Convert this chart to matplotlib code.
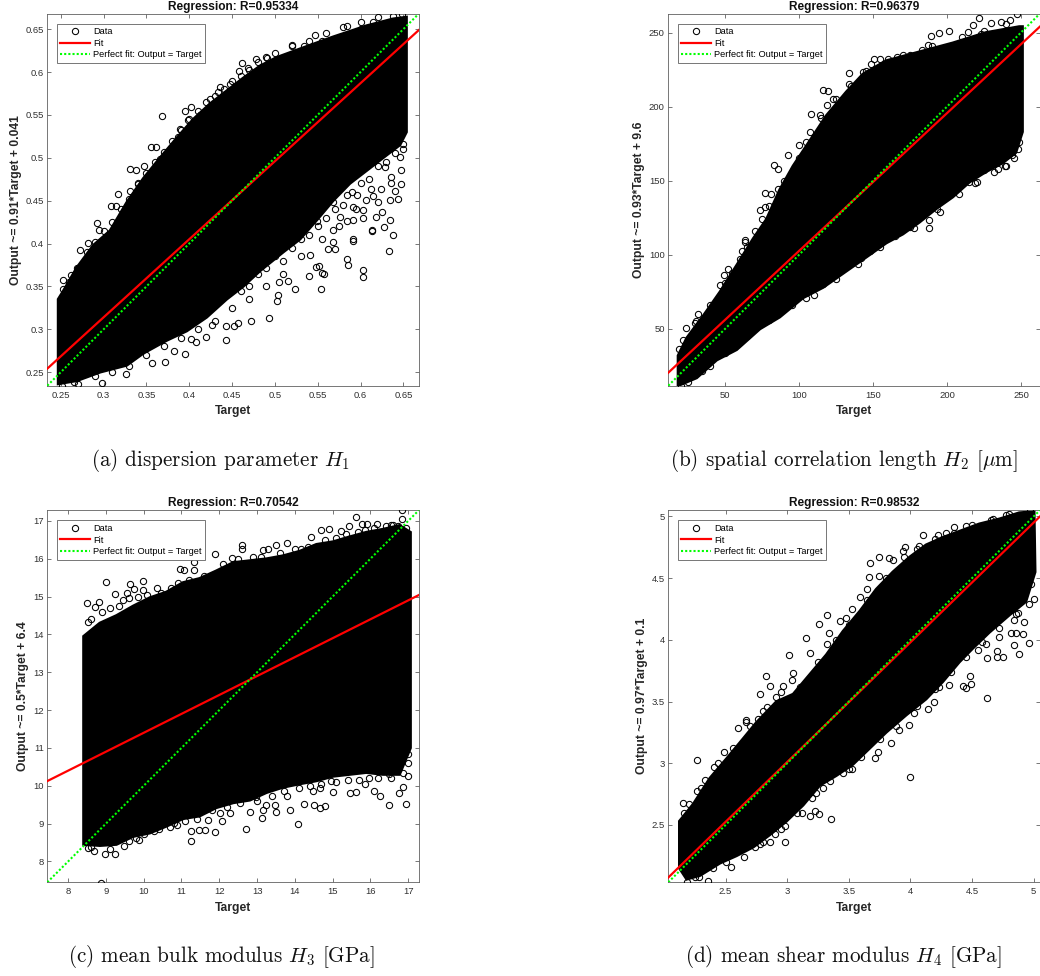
import matplotlib
matplotlib.use('Agg')
import matplotlib.pyplot as plt

plt.rcParams['font.family'] = ['Liberation Sans', 'DejaVu Sans']
plt.rcParams['mathtext.fontset'] = 'cm'
plt.rcParams['axes.formatter.use_mathtext'] = True

# Panel a: solid cloud outline (upper and lower edge), circles that stand clear of it, and the speckled fringe
a_up_x = [.2469, .2531, .2687, .288, .3075, .327, .3464, .3659, .3853, .4047, .4242, .4436, .463, .4825, .5019, .5292, .568, .607, .638, .6536]
a_up_y = [.335, .345, .372, .398, .415, .448, .476, .5, .523, .545, .563, .578, .593, .607, .617, .627, .641, .654, .662, .664]
a_lo_x = [.2469, .2687, .296, .327, .3464, .3736, .397, .4203, .4436, .463, .4825, .5097, .5292, .5486, .568, .5875, .607, .6264, .646, .6536]
a_lo_y = [.2364, .24, .25, .258, .272, .287, .298, .314, .335, .35, .368, .39, .405, .427, .45, .47, .485, .5, .515, .53]
a_out_x = [.3686, .4024, .395, .3989, .4358, .4339, .4242, .4611, .4689, .4579, .4775, .4903, .5019, .5202, .5338, .5466, .584, .6149, .638, .6489,
           .3309, .338, .3472, .355, .3612, .3165, .3083, .3142, .292, .2944, .3406, .3309, .3659, .3892, .3872, .4125, .4475, .5544, .5649, .6,
           .638, .6131, .6275, .6349, .6256, .6178, .6023, .5914, .5836, .6031, .6069, .6205, .6341, .6439, .64, .6477, .6244, .6127, .5953, .5836,
           .5914, .5758, .568, .6477, .6361, .6283, .6458, .6497, .568, .5486, .5914,
           .6331, .5914, .5836, .5855, .6031, .6031, .5397, .5474, .5517, .5544, .5572, .5537, .5237, .5156, .5051, .5031, .5027, .4934, .4716,
           .4572, .4526, .4425, .4425, .4265, .4199, .4079, .4016, .3946, .3818, .3721, .3565, .3258, .2978, .2512, .2706, .5408, .5622, .57, .568, .6135,
           .2726, .2823, .2694, .2531, .2531, .2617]
a_out_y = [.5485, .5594, .5551, .5446, .5823, .5765, .5687, .6103, .6049, .6006, .6153, .6162, .6123, .6313, .6302, .643, .6539, .6582, .6652, .6679,
           .4871, .4859, .4902, .5124, .5131, .4575, .4432, .4432, .4245, .4159, .4692, .4618, .4988, .5337, .524, .5493, .5862, .6356, .6379, .6504,
           .4101, .4152, .4198, .428, .4365, .4307, .4295, .428, .4268, .4393, .4502, .4482, .4502, .4521, .4618, .4696, .4638, .4638, .456, .456,
           .4424, .4307, .4482, .4852, .4774, .489, .5007, .5163, .4152, .4268, .4054,
           .3911, .4028, .3814, .3752, .3694, .3608, .362, .3725, .3733, .3655, .3639, .3464, .3468, .3558, .355, .3394, .3324, .3134, .3099,
           .3075, .3044, .3037, .2877, .3048, .2912, .285, .2881, .271, .2749, .2617, .2601, .2484, .2379, .2341, .2364, .3861, .3939, .3939, .4016, .4141,
           .3919, .4005, .3717, .3577, .3472, .3628]
a_fr_x = [.46, .47, .48, .49, .5, .51, .52, .53, .54, .55, .56, .57, .58, .59, .6, .61, .62, .63, .64, .65,
          .555, .575, .595, .615, .635, .53, .51, .49, .47, .45, .43, .41, .39, .37, .35, .33, .31, .29, .265,
          .26, .27, .28, .29, .3, .31, .32, .33, .34, .35, .36, .37, .38, .39, .4, .41, .42, .43, .44, .45, .46, .47, .48, .49, .5, .52, .54, .56, .58, .6, .62]
a_fr_y = [.345, .35, .365, .372, .385, .38, .395, .405, .41, .42, .43, .44, .445, .46, .47, .475, .49, .495, .505, .51,
          .405, .42, .44, .455, .47, .385, .365, .35, .335, .325, .31, .3, .29, .28, .27, .257, .25, .245, .238,
          .355, .372, .39, .402, .415, .425, .44, .452, .47, .482, .495, .507, .52, .532, .545, .555, .565, .572, .58, .59, .595, .602, .612, .618, .622, .63, .636, .645, .652, .658, .664]

# Panel b
b_up_x = [18.3, 24.2, 35.4, 46.6, 57.9, 69.1, 78, 87, 96, 107.3, 118.5, 132, 143.2, 158.9, 181.4, 203.9, 226.3, 248.8, 251]
b_up_y = [32, 44, 59, 75, 93, 111, 124, 144, 160, 177, 194, 210, 222, 231, 237, 243, 250, 254, 254]
b_lo_x = [18.3, 30.9, 44.4, 57.9, 73.6, 87, 102.8, 116.3, 132, 147.7, 159, 170.2, 181.4, 192.6, 203.9, 215.1, 226.3, 237.6, 246.5, 251]
b_lo_y = [11.7, 17, 29, 36, 50, 58, 71, 78, 89, 100, 108, 114, 122, 131, 139, 149, 156, 162, 169, 183]
b_out_x = [247, 221.8, 229.7, 236.4, 242.5, 217.3, 213.9, 222.9, 201.2, 194.4, 189.3, 187, 183.2, 174.7, 166.1, 160.1, 151, 148.8, 143.2, 133.6,
           133.8, 139.2, 116.3, 119.6, 123, 119, 108.4, 114, 107.7, 100, 92.7, 83, 85.9, 77, 81.4, 85.9, 73.6, 77, 70.2, 63.5,
           63.5, 61.2, 49.6, 52.2, 46.6, 32, 30.5, 23.5, 21.5, 19.2,
           20.3, 34.3, 46, 56, 75.8, 85.9, 104.4, 98.3, 116.3, 129.7, 142, 138.7, 147.7, 157.4, 161.2,
           188.1, 187.7, 193.1, 174.7, 182.5, 214.6, 219.1, 234.2, 239.1, 243.8, 248.1, 248.8, 201.6, 225.2, 210.6]
b_out_y = [262.8, 260.1, 256.1, 257.2, 258.3, 255, 250.5, 249.3, 250.7, 250, 247.5, 241.4, 238.1, 235.1, 233.6, 231.8, 232.4, 229, 223.4, 222.7,
           215.5, 215.1, 211, 210.6, 205, 200.9, 195.3, 194.1, 182.9, 173.9, 167.6, 160.4, 157.7, 141.9, 141.2, 144.6, 130.4, 132.2, 116.4, 109.7,
           108.6, 102.5, 86.7, 90.5, 79.7, 60.1, 55.2, 50.9, 42.6, 36.5,
           11.5, 21.8, 32.7, 39.6, 54.5, 60.8, 70.7, 71.8, 80.4, 91.7, 97.7, 96.6, 102.9, 110.1, 114.6,
           123.6, 118.2, 130.6, 119.1, 125.9, 149.1, 148.4, 158.1, 159.9, 167.1, 171.2, 176.1, 141.7, 157, 152.5]
b_fr_x = [30, 40, 50, 55, 60, 65, 75, 80, 90, 100, 105, 115, 125, 135, 145, 155, 170, 190, 210, 225, 240,
          25, 40, 50, 65, 80, 95, 110, 125, 140, 155, 165, 178, 195, 208, 220, 232, 245, 240]
b_fr_y = [54, 66, 81, 88, 97, 105, 124, 133, 150, 165, 176, 192, 205, 214, 224, 232, 235, 241, 247, 251, 256,
          14, 25, 34, 45, 56, 66, 73, 84, 94, 105, 113, 118, 129, 141, 149, 156, 165, 160]

# Panel c
c_up_x = [8.41, 8.84, 9.28, 9.72, 10.16, 10.6, 11.04, 11.48, 11.92, 12.37, 12.81, 13.25, 13.69, 14.13, 14.57, 15.01, 15.45, 15.89, 16.33, 16.77, 17.06]
c_up_y = [13.95, 14.3, 14.5, 14.75, 14.97, 15.12, 15.37, 15.48, 15.68, 15.9, 15.95, 16, 16.08, 16.2, 16.38, 16.45, 16.58, 16.7, 16.78, 16.88, 16.7]
c_lo_x = [8.41, 8.84, 9.28, 9.72, 10.16, 10.6, 11.04, 11.48, 11.92, 12.37, 12.81, 13.25, 13.69, 14.13, 14.57, 15.01, 15.45, 15.89, 16.33, 16.77, 17.06]
c_lo_y = [8.45, 8.42, 8.45, 8.66, 8.75, 8.93, 9.13, 9.2, 9.42, 9.55, 9.62, 9.82, 9.96, 10.05, 10.13, 10.25, 10.3, 10.35, 10.3, 10.3, 11]
c_out_x = [8.5, 8.53, 8.72, 8.81, 8.99, 9.25, 9.44, 9.57, 9.64, 9.74, 9.97, 9.97, 10.35, 10.73, 10.95, 11.06, 11.33, 11.33, 11.89, 12.34, 12.61,
           12.61, 13.16, 13.28, 13.49, 13.79, 14.17, 14.44, 14.68, 14.9, 15.23, 15.43, 15.67, 15.63, 15.77, 15.9, 16.18, 16.42, 16.54, 16.83, 16.84, 16.73,
           8.86, 8.53, 8.69, 8.98, 9.23, 9.47, 9.81, 9.87, 10.27, 10.69, 10.87, 11.25, 11.25, 11.46, 11.63, 11.88, 11.69, 12.08, 12.7, 12.82, 13.12,
           13.15, 13.23, 13.47, 13.51, 13.88, 14.08, 14.23, 14.51, 14.67, 14.81, 15.01, 15.45, 15.63, 16.09, 16.25, 16.49, 16.75, 16.93, 16.86, 16.99,
           16.55, 16.4, 15.85, 14.97, 14.66, 14.48, 13.78, 12.98, 12.28, 12.01]
c_out_y = [14.82, 14.32, 14.72, 14.86, 15.39, 15.08, 14.92, 15.1, 15.32, 15.2, 15.42, 15.17, 15.23, 15.22, 15.74, 15.69, 15.71, 15.92, 16.13, 16.02, 16.37,
           16.25, 16.23, 16.25, 16.37, 16.41, 16.25, 16.57, 16.77, 16.78, 16.73, 16.86, 16.71, 17.11, 16.92, 16.93, 16.91, 16.87, 16.9, 17.04, 17.28, 16.86,
           7.44, 8.35, 8.28, 8.2, 8.21, 8.42, 8.63, 8.56, 8.8, 8.92, 8.96, 8.53, 8.81, 8.83, 8.82, 8.77, 9.1, 9.06, 8.85, 9.31, 9.16,
           9.36, 9.49, 9.49, 9.3, 9.35, 8.99, 9.52, 9.48, 9.41, 9.46, 9.83, 9.82, 9.83, 9.86, 9.72, 9.48, 9.8, 9.53, 9.98, 10.26,
           10.2, 10.48, 10.06, 10.14, 9.93, 9.87, 9.73, 9.71, 9.27, 9.27]
c_fr_x = [8.6, 8.9, 9.1, 9.35, 9.6, 9.85, 10.1, 10.45, 10.9, 11.2, 11.6, 12.1, 12.5, 12.9, 13.1, 13.6, 14, 14.35, 14.8, 15.1, 15.35, 15.85, 16.1, 16.6, 16.95,
          8.6, 9.1, 9.6, 10, 10.4, 10.8, 11.1, 11.4, 11.8, 12.2, 12.55, 13, 13.4, 13.7, 14.1, 14.4, 14.7, 15.1, 15.4, 15.7, 15.95, 16.2, 16.5, 16.85, 17, 17]
c_fr_y = [14.4, 14.6, 14.7, 14.75, 14.95, 15, 15.05, 15.1, 15.35, 15.45, 15.55, 15.85, 16, 16.05, 16.05, 16.15, 16.25, 16.3, 16.5, 16.55, 16.65, 16.75, 16.8, 16.88, 16.8,
          8.38, 8.33, 8.55, 8.73, 8.87, 9.03, 9.08, 9.12, 9.35, 9.45, 9.55, 9.6, 9.72, 9.85, 9.95, 10, 10.05, 10.1, 10.15, 10.15, 10.2, 10.2, 10.3, 10.35, 10.6, 10.85]

# Panel d
d_up_x = [2.125, 2.238, 2.373, 2.51, 2.643, 2.75, 2.913, 3.048, 3.183, 3.318, 3.453, 3.587, 3.722, 3.857, 3.992, 4.127, 4.262, 4.397, 4.559, 4.721, 4.883, 5.004]
d_up_y = [2.53, 2.67, 2.88, 3.04, 3.2, 3.33, 3.5, 3.56, 3.72, 3.88, 4.07, 4.23, 4.41, 4.55, 4.67, 4.77, 4.83, 4.88, 4.94, 4.98, 5.03, 5.04]
d_lo_x = [2.125, 2.184, 2.292, 2.454, 2.589, 2.724, 2.859, 2.994, 3.129, 3.264, 3.399, 3.533, 3.668, 3.803, 3.965, 4.127, 4.262, 4.397, 4.505, 4.64, 4.802, 4.937, 5.012]
d_lo_y = [2.15, 2.06, 2.09, 2.19, 2.25, 2.32, 2.42, 2.53, 2.66, 2.82, 2.9, 2.99, 3.12, 3.25, 3.39, 3.52, 3.66, 3.82, 3.93, 4.06, 4.2, 4.31, 4.55]
d_out_x = [4.972, 4.775, 4.667, 4.451, 4.351, 4.289, 4.222, 4.1, 4.073, 3.957, 3.938, 3.741, 3.676, 3.825, 3.857, 3.66, 3.749, 3.647, 3.587, 3.525, 3.323,
           3.258, 3.426, 3.479, 3.336, 3.15, 3.015, 3.323, 3.183, 2.824, 2.864, 2.778, 2.913, 2.967, 3.048, 3.04, 2.832, 2.665, 2.764,
           2.603, 2.662, 2.489, 2.271, 2.408, 2.333, 2.271, 2.157, 2.203, 2.144,
           2.357, 2.184, 2.284, 2.54, 2.859, 2.986, 2.905, 2.778, 2.737, 2.986, 3.185, 3.223, 3.261, 3.355, 3.123, 3.237, 3.291, 3.453, 3.525, 3.714, 3.736, 3.841, 3.995, 3.911, 3.992,
           4.621, 4.491, 4.484, 4.424, 4.451, 4.621, 4.699, 4.753, 4.699, 4.837, 4.883, 4.964, 4.915, 4.815, 4.856, 4.923, 4.837, 4.856, 4.964, 4.721, 4.613, 4.545, 4.195, 4.141, 4.025, 4.235, 4.316]
d_out_y = [5.043, 5.008, 4.981, 4.922, 4.911, 4.865, 4.846, 4.852, 4.763, 4.752, 4.72, 4.671, 4.623, 4.666, 4.65, 4.509, 4.515, 4.415, 4.348, 4.253, 4.199,
           4.129, 4.154, 4.181, 4.059, 4.011, 3.876, 3.97, 3.89, 3.709, 3.628, 3.558, 3.539, 3.625, 3.733, 3.674, 3.458, 3.35, 3.356,
           3.282, 3.336, 3.088, 3.026, 2.966, 2.861, 2.778, 2.681, 2.67, 2.508,
           2.042, 2.034, 2.077, 2.155, 2.363, 2.365, 2.427, 2.344, 2.325, 2.495, 2.575, 2.611, 2.592, 2.546, 2.594, 2.756, 2.799, 2.918, 2.95, 3.039, 3.088, 3.163, 2.888, 3.268, 3.309,
           3.531, 3.642, 3.709, 3.625, 3.606, 3.849, 3.863, 3.863, 3.908, 3.957, 3.884, 3.976, 4.046, 4.059, 4.059, 4.148, 4.159, 4.213, 4.294, 4.024, 3.97, 3.916, 3.499, 3.437, 3.404, 3.62, 3.633]
d_fr_x = [2.16, 2.3, 2.44, 2.56, 2.7, 2.8, 2.95, 3.1, 3.25, 3.4, 3.5, 3.65, 3.8, 3.95, 4.05, 4.2, 4.35, 4.5, 4.65, 4.8,
          2.25, 2.4, 2.5, 2.65, 2.8, 2.95, 3.08, 3.2, 3.35, 3.5, 3.6, 3.75, 3.88, 4.05, 4.2, 4.33, 4.45, 4.58, 4.72, 4.87, 5, 4.98]
d_fr_y = [2.6, 2.8, 3, 3.12, 3.3, 3.42, 3.58, 3.62, 3.82, 4, 4.12, 4.32, 4.5, 4.67, 4.74, 4.82, 4.87, 4.93, 4.97, 5.02,
          2.08, 2.15, 2.2, 2.24, 2.36, 2.47, 2.6, 2.72, 2.86, 2.95, 3.05, 3.2, 3.3, 3.46, 3.6, 3.74, 3.86, 3.98, 4.1, 4.22, 4.33, 4.45]

# limits, ticks and fit from the panel labels
lims = [(.2342, .668), (11.7, 262.7), (7.45, 17.28), (2.035, 5.05)]
ticks = [[.25, .3, .35, .4, .45, .5, .55, .6, .65],
         [50, 100, 150, 200, 250],
         [8, 9, 10, 11, 12, 13, 14, 15, 16, 17],
         [2.5, 3, 3.5, 4, 4.5, 5]]
tick_labels = [['0.25', '0.3', '0.35', '0.4', '0.45', '0.5', '0.55', '0.6', '0.65'],
               ['50', '100', '150', '200', '250'],
               ['8', '9', '10', '11', '12', '13', '14', '15', '16', '17'],
               ['2.5', '3', '3.5', '4', '4.5', '5']]
slopes = [.91, .93, .5, .97]
intercepts = [.041, 9.6, 6.4, .1]
titles = ['Regression: R=0.95334', 'Regression: R=0.96379', 'Regression: R=0.70542', 'Regression: R=0.98532']
ylabels = ['Output ~= 0.91*Target + 0.041', 'Output ~= 0.93*Target + 9.6',
           'Output ~= 0.5*Target + 6.4', 'Output ~= 0.97*Target + 0.1']
captions = ['(a) dispersion parameter $H_1$', '(b) spatial correlation length $H_2$ [$\\mu$m]',
            '(c) mean bulk modulus $H_3$ [GPa]', '(d) mean shear modulus $H_4$ [GPa]']

clouds = [(a_up_x, a_up_y, a_lo_x, a_lo_y, a_out_x + a_fr_x, a_out_y + a_fr_y),
          (b_up_x, b_up_y, b_lo_x, b_lo_y, b_out_x + b_fr_x, b_out_y + b_fr_y),
          (c_up_x, c_up_y, c_lo_x, c_lo_y, c_out_x + c_fr_x, c_out_y + c_fr_y),
          (d_up_x, d_up_y, d_lo_x, d_lo_y, d_out_x + d_fr_x, d_out_y + d_fr_y)]

W, H = 1040, 976
lefts = [47.3, 668.3, 47.3, 668.3]
tops = [13.7, 13.7, 510.3, 510.3]
ylabel_x = [-.068, -.064, -.048, -.055]
cap_x = [221, 843.7, 221.7, 843]
cap_y = [460, 460, 957, 957]
GREY = '#404040'

fig = plt.figure(figsize=(W / 100, H / 100), dpi=100)

for i in range(4):
    ax = fig.add_axes([lefts[i] / W, 1 - (tops[i] + 372) / H, 371.5 / W, 372 / H])
    ux, uy, lx, ly, ox, oy = clouds[i]
    lo, hi = lims[i]

    # the black mass of overlapping circles
    ax.fill(list(ux) + list(lx[::-1]), list(uy) + list(ly[::-1]), color='k', lw=2, zorder=2)
    ax.plot(ox, oy, 'o', mfc='none', mec='k', ms=4.5, mew=.75, label='Data', zorder=3)
    ax.plot([lo, hi], [slopes[i] * lo + intercepts[i], slopes[i] * hi + intercepts[i]],
            color='#ff0000', lw=1.6, label='Fit', zorder=4)
    ax.plot([lo, hi], [lo, hi], color='#00ff00', lw=1.5, ls=(0, (1, 1)),
            label='Perfect fit: Output = Target', zorder=5)

    ax.set_xlim(lo, hi)
    ax.set_ylim(lo, hi)
    ax.set_xticks(ticks[i])
    ax.set_xticklabels(tick_labels[i])
    ax.set_yticks(ticks[i])
    ax.set_yticklabels(tick_labels[i])
    ax.tick_params(direction='in', top=True, right=True, length=2.7, width=.5, color=GREY,
                   labelcolor='#303030', labelsize=6.8, pad=2.5)
    ax.tick_params(axis='x', pad=3.5)
    for s in ax.spines.values():
        s.set_linewidth(.6)
        s.set_color('#606060')

    ax.set_title(titles[i], fontsize=8.6, fontweight='bold', pad=3, color='#111111')
    ax.set_xlabel('Target', fontsize=8.7, fontweight='bold', color='#262626')
    ax.xaxis.set_label_coords(.5, -.053)
    ax.set_ylabel(ylabels[i], fontsize=8.7, fontweight='bold', color='#262626')
    ax.yaxis.set_label_coords(ylabel_x[i], .5)

    leg = ax.legend(loc='upper left', bbox_to_anchor=(.0255, .973), borderaxespad=0, fontsize=6.65,
                    fancybox=False, framealpha=1, edgecolor='#606060', handlelength=3.2,
                    handletextpad=.3, labelspacing=.27, borderpad=.4)
    leg.get_frame().set_linewidth(.6)
    leg.set_zorder(10)

    fig.text(cap_x[i] / W, 1 - cap_y[i] / H, captions[i], ha='center', va='center',
             family='cmr10', fontsize=15.2, color='#111111')

fig.savefig('out.png', dpi=100)
